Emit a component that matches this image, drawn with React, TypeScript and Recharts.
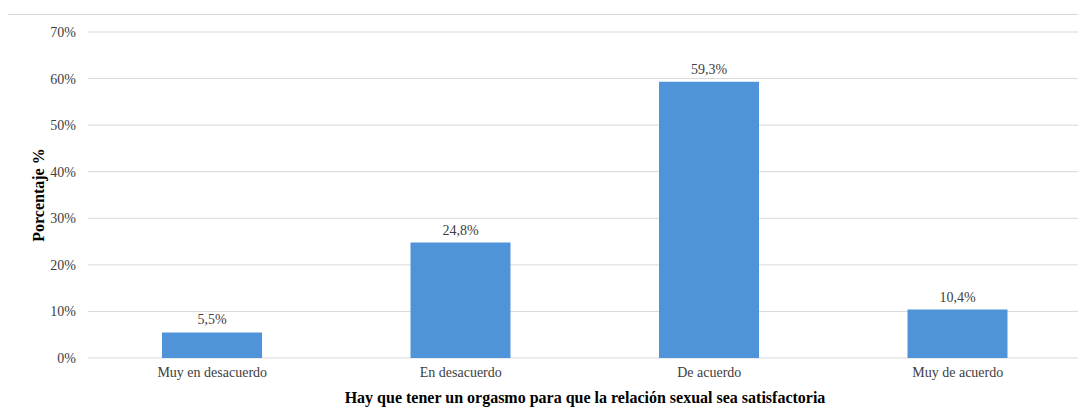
import { BarChart, Bar, XAxis, YAxis, CartesianGrid, LabelList, Label } from "recharts";

const categories = ["Muy en desacuerdo", "En desacuerdo", "De acuerdo", "Muy de acuerdo"];
const percentages = [5.5, 24.8, 59.3, 10.4];
const yTicks = [0, 10, 20, 30, 40, 50, 60, 70];

const data = categories.map((name, i) => ({ name, value: percentages[i] }));

const FONT = "'Liberation Serif', 'Times New Roman', serif";

function fmtPct(v: any) {
  return `${Number(v).toFixed(1).replace(".", ",")}%`;
}

function YTitle(props: any) {
  const { x, y, width, height } = props.viewBox;
  const cx = x + width / 2 - 6;
  const cy = y + height / 2;
  return (
    <text
      x={cx}
      y={cy}
      transform={`rotate(-90 ${cx} ${cy})`}
      textAnchor="middle"
      dominantBaseline="central"
      fontFamily={FONT}
      fontSize={16}
      fontWeight="bold"
      fill="#000"
    >
      Porcentaje %
    </text>
  );
}

export default function App() {
  return (
    <div style={{ position: "relative", margin: -8, width: 1086, height: 419, overflow: "hidden", background: "#fff" }}>
      <div
        style={{
          position: "absolute",
          left: 7,
          top: 14,
          width: 1200,
          height: 600,
          border: "1px solid #d9d9d9",
        }}
      />
      <div style={{ position: "absolute", left: 0, top: 0 }}>
        <BarChart width={1086} height={419} data={data} margin={{ top: 32, right: 4, bottom: 0, left: 0 }}>
          <CartesianGrid vertical={false} stroke="#d9d9d9" />
          <XAxis
            dataKey="name"
            height={61}
            axisLine={false}
            tickLine={false}
            tickSize={0}
            tickMargin={9}
            tick={{ fontFamily: FONT, fontSize: 14, fill: "#404040" }}
          >
            <Label
              value="Hay que tener un orgasmo para que la relación sexual sea satisfactoria"
              position="insideBottom"
              offset={16}
              style={{ fontFamily: FONT, fontSize: 16, fontWeight: "bold", fill: "#000" }}
            />
          </XAxis>
          <YAxis
            width={88}
            domain={[0, 70]}
            ticks={yTicks}
            tickFormatter={(v) => `${v}%`}
            axisLine={false}
            tickLine={false}
            tickSize={0}
            tickMargin={12}
            tick={{ fontFamily: FONT, fontSize: 14, fill: "#404040" }}
          >
            <Label content={YTitle} />
          </YAxis>
          <Bar dataKey="value" fill="#4f94d9" barSize={100} isAnimationActive={false}>
            <LabelList
              dataKey="value"
              position="top"
              offset={8}
              formatter={fmtPct}
              style={{ fontFamily: FONT, fontSize: 14, fill: "#404040" }}
            />
          </Bar>
        </BarChart>
      </div>
    </div>
  );
}
